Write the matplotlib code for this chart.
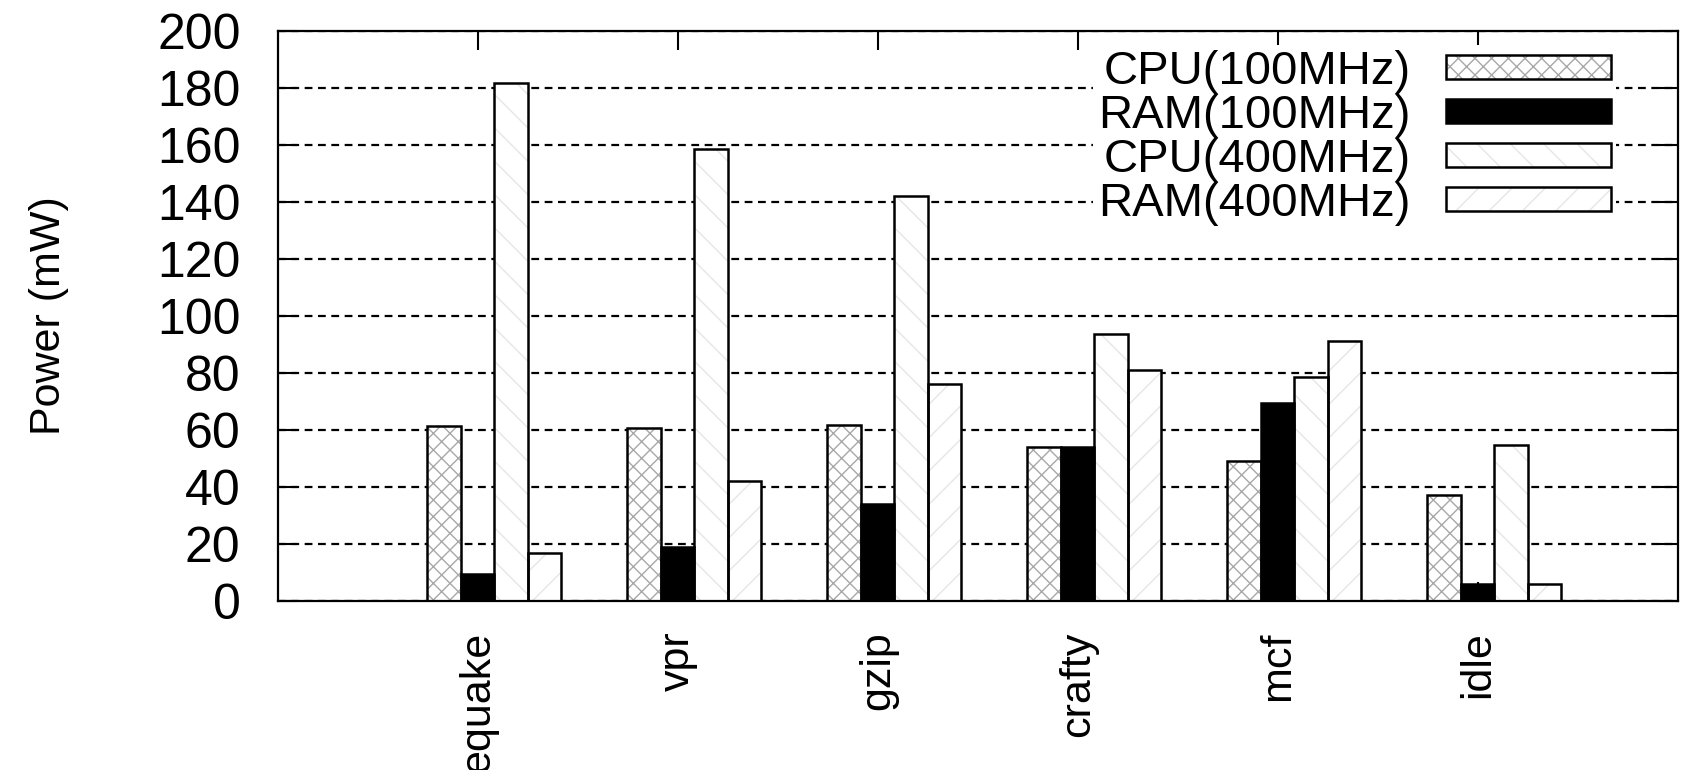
import numpy as np
import matplotlib

matplotlib.use("Agg")
import matplotlib.pyplot as plt
from matplotlib.legend_handler import HandlerTuple

plt.rcParams["font.family"] = ["Liberation Sans", "DejaVu Sans"]
plt.rcParams["hatch.linewidth"] = 1.0

benchmarks = ["equake", "vpr", "gzip", "crafty", "mcf", "idle"]
series_names = ["CPU(100MHz)", "RAM(100MHz)", "CPU(400MHz)", "RAM(400MHz)"]
cpu_100 = [61.5, 60.7, 61.6, 53.9, 49.0, 37.3]
ram_100 = [9.4, 19.0, 34.0, 54.1, 69.5, 6.1]
cpu_400 = [181.9, 158.5, 142.2, 93.7, 78.6, 54.9]
ram_400 = [16.9, 42.0, 76.0, 80.9, 91.2, 6.1]
y_ticks = list(range(0, 201, 20))

# fill style per series: (face, hatch colour, hatch)
STYLES = [
    ("white", "#a8a8a8", "xx"),
    ("black", "black", None),
    ("white", "#e6e6e6", "\\"),
    ("white", "#e6e6e6", "/"),
]

BAR_W = 0.168
GROUP_START = -0.255

fig = plt.figure(figsize=(16.84, 7.70), dpi=100)
ax = fig.add_axes([278 / 1684, 1 - 601 / 770, 1400 / 1684, 570 / 770])

x = np.arange(len(benchmarks))
handles = []
for idx, values in enumerate([cpu_100, ram_100, cpu_400, ram_400]):
    face, hcolor, hatch = STYLES[idx]
    left = x + GROUP_START + idx * BAR_W
    # hatch layer first, then a plain black outline on top
    fill = ax.bar(left, values, BAR_W, align="edge", color=face, edgecolor=hcolor,
                  hatch=hatch, linewidth=0, zorder=2)
    outline = ax.bar(left, values, BAR_W, align="edge", fill=False, edgecolor="black",
                     linewidth=1.8, zorder=3)
    handles.append((fill.patches[0], outline.patches[0]))

ax.set_xlim(-1, 6)
ax.set_ylim(0, 200)
ax.set_yticks(y_ticks)
ax.set_xticks(x, benchmarks, rotation=90, ha="center", va="top", fontsize=31)
ax.tick_params(axis="y", labelsize=36, pad=27)
ax.tick_params(axis="x", pad=22)
ax.tick_params(direction="in", length=14, width=1.5, top=True, right=True, color="black")
for spine in ax.spines.values():
    spine.set_linewidth(1.6)
    spine.set_zorder(4)

ax.set_axisbelow(True)
ax.yaxis.grid(True, color="black", linewidth=1.6, dashes=(3.5, 2.5))

ax.set_ylabel("Power (mW)", fontsize=31)
ax.yaxis.set_label_coords(-0.149, 0.5)

leg = ax.legend(
    handles,
    series_names,
    handler_map={tuple: HandlerTuple(ndivide=1)},
    loc="center right",
    bbox_to_anchor=(1616 / 1684, 1 - 138 / 770),
    bbox_transform=fig.transFigure,
    markerfirst=False,
    fontsize=34,
    handlelength=3.5,
    handleheight=0.4,
    handletextpad=0.75,
    labelspacing=0.0,
    borderpad=0.1,
    borderaxespad=0,
    frameon=True,
    fancybox=False,
    framealpha=1,
)
leg.get_frame().set_edgecolor("none")
leg.get_frame().set_facecolor("white")
leg.set_zorder(5)

fig.savefig("out.png", dpi=100)
